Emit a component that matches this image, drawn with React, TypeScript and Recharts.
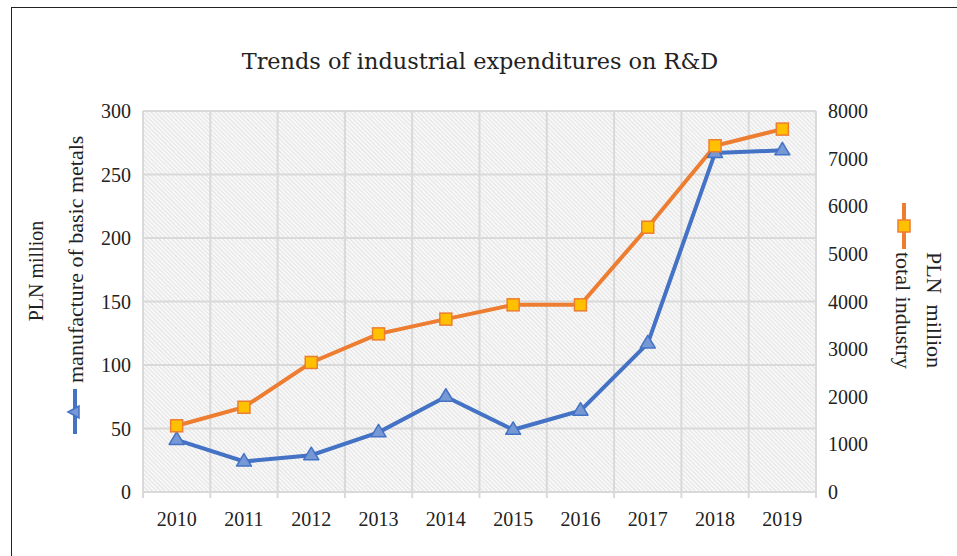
import React from 'react'
import { LineChart, Line, XAxis, YAxis, CartesianGrid } from 'recharts'

const years = ['2010', '2011', '2012', '2013', '2014', '2015', '2016', '2017', '2018', '2019']
// manufacture of basic metals, PLN million (left axis)
const basicMetals = [41, 24, 29, 47, 75, 49, 64, 117, 267, 269]
// total industry, PLN million (right axis)
const totalIndustry = [1390, 1780, 2720, 3320, 3630, 3930, 3930, 5560, 7270, 7620]
const leftTicks = [0, 50, 100, 150, 200, 250, 300]
const rightTicks = [0, 1000, 2000, 3000, 4000, 5000, 6000, 7000, 8000]
// category boundaries, for Excel-style grid lines between years
const boundaryTicks = [0, 1, 2, 3, 4, 5, 6, 7, 8, 9, 10]

const data = years.map((year, i) => ({
    year,
    metals: basicMetals[i],
    total: totalIndustry[i],
}))

const BLUE = '#4472C4'
const ORANGE = '#ED7D31'
const GRID = '#D9D9D9'
const numFont = 'Liberation Serif, serif'
const titleFont = 'DejaVu Serif, serif'
const TICK_MARGIN = 20

const tickStyle = { fontFamily: numFont, fontSize: 20, fill: '#222' }

const TriangleDot = (props: any) => {
    const { cx, cy, index } = props
    if (cx == null || cy == null) return null
    return (
        <polygon
            key={`t-${index}`}
            points={`${cx},${cy - 8} ${cx + 7.5},${cy + 4.5} ${cx - 7.5},${cy + 4.5}`}
            fill="#7698D4"
            stroke={BLUE}
            strokeWidth={1.5}
            strokeLinejoin="round"
        />
    )
}

const SquareDot = (props: any) => {
    const { cx, cy, index } = props
    if (cx == null || cy == null) return null
    return (
        <rect
            key={`s-${index}`}
            x={cx - 6}
            y={cy - 6}
            width={12}
            height={12}
            fill="#FFC000"
            stroke={ORANGE}
            strokeWidth={1.5}
        />
    )
}

// year label plus a short tick mark on the category boundary (Excel style)
const YearTick = (props: any) => {
    const { x, y, payload, index, visibleTicksCount } = props
    const w = typeof props.width === 'number' ? props.width : 673
    const band = w / (visibleTicksCount || years.length)
    const axisY = y - TICK_MARGIN
    return (
        <g>
            <line x1={x - band / 2} y1={axisY} x2={x - band / 2} y2={axisY + 6} stroke={GRID} strokeWidth={2} />
            {index === visibleTicksCount - 1 && (
                <line x1={x + band / 2} y1={axisY} x2={x + band / 2} y2={axisY + 6} stroke={GRID} strokeWidth={2} />
            )}
            <text x={x} y={y} dy="0.71em" textAnchor="middle" fontFamily={numFont} fontSize={20} fill="#222">
                {payload.value}
            </text>
        </g>
    )
}

export default function App() {
    return (
        <div style={{ position: 'absolute', left: 0, top: 0, width: 957, height: 556, background: '#fff', overflow: 'hidden' }}>
            <div style={{ position: 'absolute', left: 11, top: 7, width: 1000, height: 600, border: '1.5px solid #222' }} />
            <LineChart
                width={957}
                height={556}
                data={data}
                margin={{ top: 111, right: 81, bottom: 34, left: 83 }}
                style={{ position: 'absolute', left: 0, top: 0 }}
            >
                <defs>
                    <pattern id="hatch" patternUnits="userSpaceOnUse" width={3} height={3} patternTransform="rotate(-45)">
                        <rect width={3} height={3} fill="#f8f8f8" />
                        <line x1={0} y1={0} x2={0} y2={3} stroke="#d6d6d6" strokeWidth={1.2} />
                    </pattern>
                </defs>
                <CartesianGrid
                    xAxisId="cat"
                    yAxisId="left"
                    stroke={GRID}
                    strokeWidth={2}
                    fill="url(#hatch)"
                    verticalCoordinatesGenerator={({ offset }: any) =>
                        boundaryTicks.map((t) => offset.left + (t * offset.width) / years.length)
                    }
                />
                <XAxis
                    xAxisId="cat"
                    dataKey="year"
                    scale="band"
                    axisLine={{ stroke: GRID, strokeWidth: 2 }}
                    tickLine={false}
                    tickSize={0}
                    tickMargin={TICK_MARGIN}
                    tick={YearTick}
                    height={30}
                    interval={0}
                />
                <YAxis
                    yAxisId="left"
                    domain={[0, 300]}
                    ticks={leftTicks}
                    axisLine={false}
                    tickLine={false}
                    tickSize={0}
                    tickMargin={12}
                    tick={tickStyle}
                    width={60}
                />
                <YAxis
                    yAxisId="right"
                    orientation="right"
                    domain={[0, 8000]}
                    ticks={rightTicks}
                    axisLine={false}
                    tickLine={false}
                    tickSize={0}
                    tickMargin={12}
                    tick={tickStyle}
                    width={60}
                />
                <Line
                    xAxisId="cat"
                    yAxisId="left"
                    dataKey="metals"
                    stroke={BLUE}
                    strokeWidth={4}
                    dot={TriangleDot}
                    isAnimationActive={false}
                />
                <Line
                    xAxisId="cat"
                    yAxisId="right"
                    dataKey="total"
                    stroke={ORANGE}
                    strokeWidth={4}
                    dot={SquareDot}
                    isAnimationActive={false}
                />
            </LineChart>
            <svg width={957} height={556} style={{ position: 'absolute', left: 0, top: 0, pointerEvents: 'none' }}>
                <text x={480} y={69} textAnchor="middle" fontFamily={titleFont} fontSize={22.4} fill="#222">
                    Trends of industrial expenditures on R&amp;D
                </text>
                {/* left axis title and legend entry */}
                <text x={36} y={271} transform="rotate(-90 36 271)" textAnchor="middle" dominantBaseline="central" fontFamily={numFont} fontSize={20} fill="#222">
                    PLN million
                </text>
                <text x={75} y={383} transform="rotate(-90 75 383)" textAnchor="start" dominantBaseline="central" fontFamily={numFont} fontSize={22} fill="#222">
                    manufacture of basic metals
                </text>
                <line x1={75} y1={389} x2={75} y2={434} stroke={BLUE} strokeWidth={4} />
                <polygon points="68,412 79,406 79,418" fill="#7698D4" stroke={BLUE} strokeWidth={1.5} />
                {/* right axis title and legend entry */}
                <text x={934} y={252} transform="rotate(90 934 252)" textAnchor="start" dominantBaseline="central" fontFamily={numFont} fontSize={22} fill="#222">
                    {'PLN\u00a0 million'}
                </text>
                <text x={903} y={252} transform="rotate(90 903 252)" textAnchor="start" dominantBaseline="central" fontFamily={numFont} fontSize={22} fill="#222">
                    total industry
                </text>
                <line x1={904} y1={203} x2={904} y2={249} stroke={ORANGE} strokeWidth={4} />
                <rect x={898} y={220} width={12} height={12} fill="#FFC000" stroke={ORANGE} strokeWidth={1.5} />
            </svg>
        </div>
    )
}
